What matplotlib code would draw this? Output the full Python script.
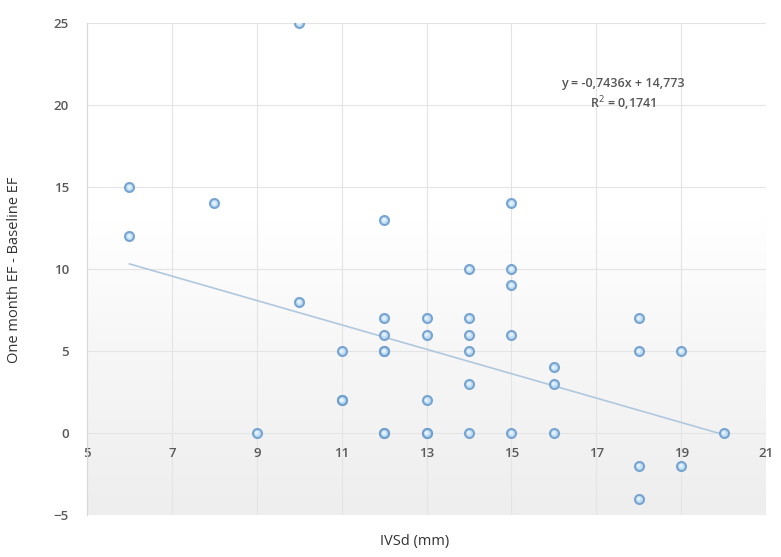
import numpy as np
import matplotlib
matplotlib.use("Agg")
import matplotlib.pyplot as plt
from matplotlib.colors import LinearSegmentedColormap

# Data (IVSd in mm, change in EF)
ivsd = [6, 6, 8, 10, 10, 9,
        11, 11, 11,
        12, 12, 12, 12, 12, 12, 12,
        13, 13, 13, 13, 13,
        14, 14, 14, 14, 14, 14,
        15, 15, 15, 15, 15,
        16, 16, 16,
        18, 18, 18, 18,
        19, 19,
        20]
delta_ef = [15, 12, 14, 25, 8, 0,
            5, 2, 2,
            13, 7, 6, 5, 5, 0, 0,
            7, 6, 2, 0, 0,
            10, 7, 6, 5, 3, 0,
            14, 10, 9, 6, 0,
            4, 3, 0,
            7, 5, -2, -4,
            5, -2,
            0]
slope = -0.7436
intercept = 14.773
r2 = 0.1741
x_ticks = [5, 7, 9, 11, 13, 15, 17, 19, 21]
y_ticks = [-5, 0, 5, 10, 15, 20, 25]

plt.rcParams['font.family'] = ['Open Sans', 'DejaVu Sans']

fig = plt.figure(figsize=(7.81, 5.57), dpi=100)
ax = fig.add_axes([87 / 781, 1 - 515 / 557, (766 - 87) / 781, (515 - 23) / 557])
ax.set_xlim(5, 21)
ax.set_ylim(-5, 25)

# background gradient (white at top, light gray at bottom)
grad = np.linspace(0, 1, 256).reshape(-1, 1)
cmap = LinearSegmentedColormap.from_list("bg", [(0, "#eeeeee"), (0.35, "#f7f7f7"), (0.6, "#ffffff"), (1, "#ffffff")])
ax.imshow(grad, extent=[5, 21, -5, 25], origin="lower", aspect="auto", cmap=cmap, zorder=0)

ax.set_xticks(x_ticks)
ax.set_yticks(y_ticks)
ax.grid(True, color="#e4e4e4", linewidth=0.8, zorder=1)
ax.set_axisbelow(True)

for s in ["top", "right"]:
    ax.spines[s].set_visible(False)
ax.spines["left"].set_color("#d8d8d8")
ax.spines["bottom"].set_position(("data", 0))
ax.spines["bottom"].set_visible(False)
ax.tick_params(axis="both", length=0, labelsize=9.5, labelcolor="#595959")
ax.tick_params(axis="x", pad=10)
ax.tick_params(axis="y", pad=13)
for lbl in ax.get_xticklabels() + ax.get_yticklabels():
    lbl.set_fontweight("semibold")

# trend line
xl = np.array([min(ivsd), max(ivsd)])
ax.plot(xl, slope * xl + intercept, color="#b0c8de", linewidth=1.2, zorder=2)

ax.scatter(ivsd, delta_ef, s=42, facecolor="#bcdcf4", edgecolor="#6d9dcc",
           linewidth=1.5, alpha=0.9, zorder=3)
ax.scatter(ivsd, delta_ef, s=8, facecolor="#e6f3fc", edgecolor="none",
           alpha=0.9, zorder=4)

ax.text(17.63, 21.3, "y = -0,7436x + 14,773", ha="center", va="center",
        fontsize=9, color="#555555", fontweight="semibold")
ax.text(17.63, 20.1, "R$^2$ = 0,1741", ha="center", va="center",
        fontsize=9, color="#555555", fontweight="semibold")

fig.text(15 / 781, 1 - 270 / 557, "One month EF - Baseline EF", rotation=90,
         ha="center", va="center", fontsize=10.5, color="#333333")
fig.text(415 / 781, 1 - 541 / 557, "IVSd (mm)", ha="center", va="center",
         fontsize=10.5, color="#333333")

fig.savefig("out.png", dpi=100)
